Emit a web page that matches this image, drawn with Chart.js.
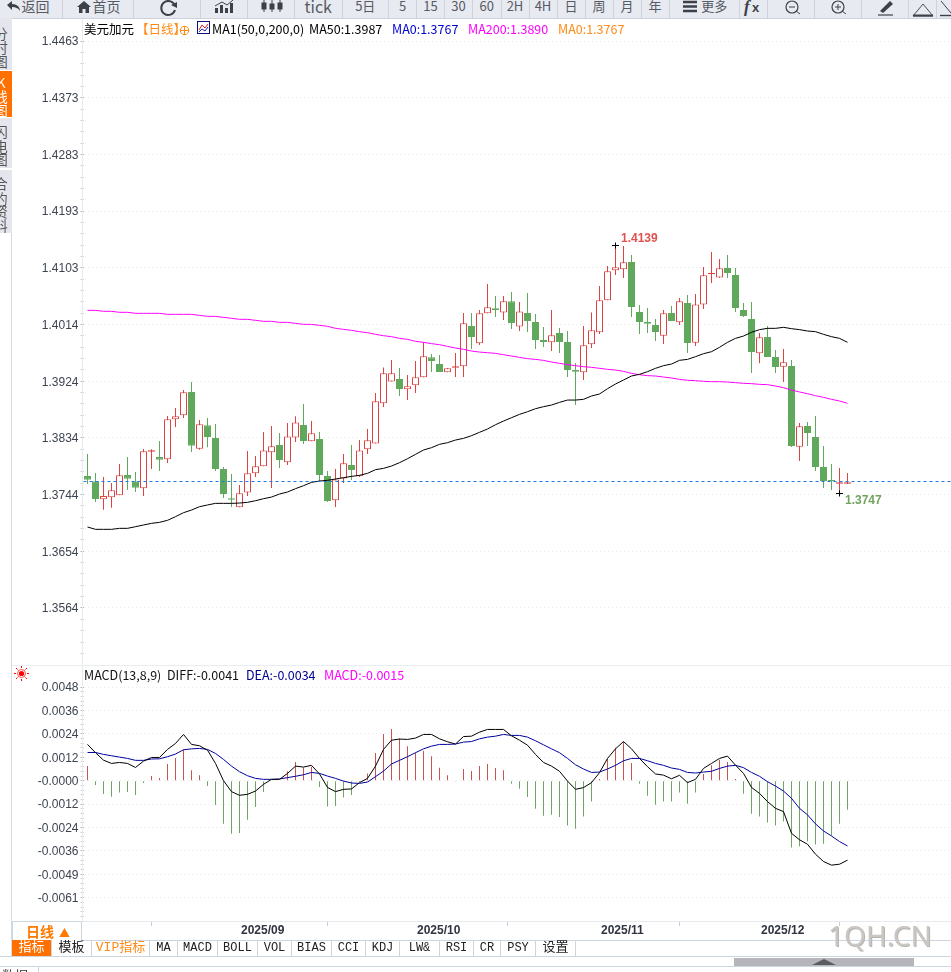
<!DOCTYPE html>
<html><head><meta charset="utf-8">
<style>
html,body{margin:0;padding:0;background:#fff;width:951px;height:972px;overflow:hidden;font-family:"Noto Sans CJK SC","Noto Sans",sans-serif}
.abs{position:absolute;white-space:nowrap}
#stage{position:absolute;left:0;top:0;width:951px;height:972px;overflow:hidden}
canvas{position:absolute;left:0}
#bar{position:absolute;left:0;top:0;width:951px;height:18px;background:#e8eaf1;border-bottom:1px solid #cfd2da;overflow:hidden}
.cell{position:absolute;top:0;height:18px;border-right:1px solid #cfd2da;text-align:center;color:#565a63;font-size:13px;line-height:12px;box-sizing:border-box;overflow:hidden}
.head{position:absolute;font-size:12.5px;line-height:16px;white-space:nowrap}
.tab{position:absolute;left:0;width:11.5px;background:#e4e5ed;overflow:hidden}
.tab span{position:absolute;left:-6px;width:14px;text-align:center;font-size:13.5px;line-height:14px;color:#555}
.tb{position:absolute;top:940px;height:17px;border-right:1px solid #cdd5de;border-bottom:1px solid #cdd5de;box-sizing:border-box;text-align:center;font:12px/16px "Liberation Mono",monospace;color:#222}
.tb.cjk{font:13px/16px "Liberation Mono","Noto Sans CJK SC";}
</style>
<script src="https://cdn.jsdelivr.net/npm/chart.js@4/dist/chart.umd.min.js"></script>
</head><body>
<div id="stage">
<canvas id="main" style="top:20px"></canvas>
<canvas id="macd" style="top:665px"></canvas>

<div id="bar"></div>
<div id="strip"></div>

<div class="abs" style="left:11px;top:233px;width:1px;height:724px;background:#d3dce3"></div>
<div class="abs" style="left:82px;top:19px;width:1px;height:902px;background:#e4eded"></div>
<div class="abs" style="left:12px;top:665px;width:939px;height:1px;background:#e8edf2"></div>

<span class="head" style="left:84px;top:21px;color:#000">美元加元</span>
<span class="head" style="left:136px;top:21px;color:#ff8a14">【日线】</span>
<svg class="abs" style="left:179px;top:25px" width="11" height="11"><circle cx="5.5" cy="5.5" r="4.2" fill="none" stroke="#ff8a14"/><path d="M1 5.5H10M5.5 1V10" stroke="#ff8a14"/></svg>
<svg class="abs" style="left:197px;top:21px" width="13" height="13"><rect x=".5" y=".5" width="12" height="12" fill="#fff" stroke="#10107a"/><path d="M2 9L5 4L8 7L11 3" fill="none" stroke="#d22"/><path d="M2 11L5 8L8 10L11 6" fill="none" stroke="#22a"/></svg>
<span class="head" style="left:212px;top:21px;color:#000">MA1(50,0,200,0)</span>
<span class="head" style="left:309px;top:21px;color:#000">MA50:1.3987</span>
<span class="head" style="left:392px;top:21px;color:#0000d0">MA0:1.3767</span>
<span class="head" style="left:468px;top:21px;color:#ff00ff">MA200:1.3890</span>
<span class="head" style="left:558px;top:21px;color:#ff8a14">MA0:1.3767</span>

<svg class="abs" style="left:14px;top:666px" width="15" height="15"><circle cx="7.5" cy="7.5" r="2.6" fill="#f00"/><circle cx="7.5" cy="7.5" r="4" fill="none" stroke="#f00" stroke-width=".7"/><path d="M7.5 0V2M7.5 13V15M0 7.5H2M13 7.5H15M2 2L3.5 3.5M11.5 11.5L13 13M13 2L11.5 3.5M3.5 11.5L2 13" stroke="#f00"/></svg>
<span class="head" style="left:84px;top:667px;color:#111">MACD(13,8,9)</span>
<span class="head" style="left:167px;top:667px;color:#111">DIFF:-0.0041</span>
<span class="head" style="left:246px;top:667px;color:#000090">DEA:-0.0034</span>
<span class="head" style="left:324px;top:667px;color:#ff00ff">MACD:-0.0015</span>

<div class="abs" style="left:82px;top:921px;width:869px;height:1px;background:#e6e9ed"></div>
<div class="abs" style="left:82px;top:940px;width:869px;height:1px;background:#cdd5de"></div>
<div class="abs" style="left:12px;top:921px;width:70px;height:19px;border:1px solid #cdd5de;border-bottom:none;box-sizing:border-box;color:#ff7a00;font:bold 14px/18px 'Noto Sans CJK SC';padding-left:13px;background:#fff">日线<span style="font-size:11px;margin-left:5px">▲</span></div>
<div id="tabs"></div>

<div class="abs" style="left:0;top:956px;width:951px;height:1px;background:#cdd5de"></div>
<div class="abs" style="left:0;top:966px;width:951px;height:1px;background:#cdd5de"></div>
<div class="abs" style="left:734px;top:958px;width:180px;height:8px;background:#b5b5bb"></div>
<div class="abs" style="left:812px;top:959px;width:0;height:0;border-left:12px solid transparent;border-right:12px solid transparent;border-bottom:6px solid #5c5c60"></div>
<div class="abs" style="left:38px;top:966px;width:1px;height:6px;background:#cdd5de"></div>
<span class="abs" style="left:2px;top:967px;font-size:13px;line-height:16px;color:#333">数据</span>

<span class="abs" style="left:828px;top:915px;font:28px/40px 'Noto Sans','Open Sans',sans-serif;color:#c9c6c3;text-shadow:1px 1px 0 #b8b4b0">1QH.CN</span>
</div>

<script>
const categories=["2025/08/05","2025/08/06","2025/08/07","2025/08/08","2025/08/11","2025/08/12","2025/08/13","2025/08/14","2025/08/15","2025/08/18","2025/08/19","2025/08/20","2025/08/21","2025/08/22","2025/08/25","2025/08/26","2025/08/27","2025/08/28","2025/08/29",
"2025/09/01","2025/09/02","2025/09/03","2025/09/04","2025/09/05","2025/09/08","2025/09/09","2025/09/10","2025/09/11","2025/09/12","2025/09/15","2025/09/16","2025/09/17","2025/09/18","2025/09/19","2025/09/22","2025/09/23","2025/09/24","2025/09/25","2025/09/26","2025/09/29","2025/09/30",
"2025/10/01","2025/10/02","2025/10/03","2025/10/06","2025/10/07","2025/10/08","2025/10/09","2025/10/10","2025/10/13","2025/10/14","2025/10/15","2025/10/16","2025/10/17","2025/10/20","2025/10/21","2025/10/22","2025/10/23","2025/10/24","2025/10/27","2025/10/28","2025/10/29","2025/10/30","2025/10/31",
"2025/11/03","2025/11/04","2025/11/05","2025/11/06","2025/11/07","2025/11/10","2025/11/11","2025/11/12","2025/11/13","2025/11/14","2025/11/17","2025/11/18","2025/11/19","2025/11/20","2025/11/21","2025/11/24","2025/11/25","2025/11/26","2025/11/27","2025/11/28",
"2025/12/01","2025/12/02","2025/12/03","2025/12/04","2025/12/05","2025/12/08","2025/12/09","2025/12/10","2025/12/11","2025/12/12","2025/12/15","2025/12/16"];
const monthStarts=["2025/09/01","2025/10/01","2025/11/03","2025/12/01"];
const blankSlots=["","","","","","","","","","","","",""];

const opens=[1.37732,1.37648,1.37363,1.37394,1.37426,1.37748,1.37648,1.37537,1.38119,1.38034,1.37997,1.38631,1.38695,1.39065,1.38166,1.38536,1.38335,1.37844,1.37368,1.37236,1.37473,1.37775,1.37886,1.38108,1.38224,1.37949,1.38345,1.38541,1.38282,1.38319,1.37732,1.37347,1.37695,1.37907,1.37727,1.38156,1.38250,1.38885,1.39233,1.39270,1.39107,1.39170,1.39297,1.39614,1.39508,1.39376,1.39450,1.39471,1.40111,1.39836,1.40312,1.40391,1.40327,1.40502,1.40105,1.40317,1.40174,1.39889,1.39852,1.40000,1.39857,1.39413,1.39376,1.39820,1.40011,1.40518,1.40994,1.41009,1.41126,1.40333,1.40174,1.40127,1.39958,1.40317,1.40169,1.40476,1.39847,1.40454,1.40930,1.40882,1.41030,1.40920,1.40365,1.40222,1.39678,1.39937,1.39619,1.39466,1.39477,1.38198,1.38525,1.38351,1.37875,1.37653,1.37611,1.37611];
const highs=[1.38081,1.37780,1.37717,1.37621,1.37923,1.38034,1.37796,1.38161,1.38156,1.38288,1.38684,1.38811,1.39096,1.39223,1.38621,1.38652,1.38557,1.37875,1.37764,1.37590,1.38129,1.38050,1.38430,1.38525,1.38414,1.38573,1.38679,1.38874,1.38604,1.38430,1.37812,1.37844,1.38081,1.38224,1.38303,1.38478,1.39048,1.39455,1.39572,1.39445,1.39334,1.39556,1.39852,1.39667,1.39651,1.39445,1.39683,1.40317,1.40317,1.40364,1.40777,1.40586,1.40586,1.40650,1.40491,1.40634,1.40301,1.40095,1.40364,1.40079,1.40031,1.39524,1.40111,1.40327,1.40745,1.41062,1.41390,1.41379,1.41237,1.40444,1.40396,1.40222,1.40365,1.40428,1.40555,1.40602,1.40618,1.41046,1.41284,1.41173,1.41237,1.41030,1.40476,1.40491,1.40000,1.40111,1.39730,1.39746,1.39572,1.38573,1.38589,1.38684,1.38208,1.37923,1.37860,1.37780];
const lows=[1.37605,1.37320,1.37199,1.37230,1.37426,1.37511,1.37479,1.37415,1.37844,1.37812,1.37939,1.38510,1.38652,1.38113,1.38150,1.38187,1.37812,1.37384,1.37241,1.37236,1.37415,1.37717,1.37886,1.37542,1.37859,1.37907,1.38271,1.38240,1.38282,1.37653,1.37320,1.37241,1.37621,1.37669,1.37717,1.38081,1.38250,1.38826,1.39233,1.39001,1.38937,1.39048,1.39297,1.39381,1.39381,1.39376,1.39302,1.39302,1.39746,1.39809,1.40312,1.40253,1.40206,1.40063,1.40031,1.40015,1.39746,1.39778,1.39714,1.39683,1.39302,1.38858,1.39254,1.39762,1.39984,1.40518,1.40920,1.40872,1.40254,1.39984,1.40000,1.39873,1.39826,1.40190,1.40127,1.39683,1.39794,1.40381,1.40793,1.40872,1.40872,1.40333,1.40254,1.39366,1.39519,1.39619,1.39366,1.39223,1.38193,1.37971,1.38208,1.37812,1.37542,1.37511,1.37470,1.37606];
const closes=[1.37674,1.37368,1.37415,1.37505,1.37743,1.37690,1.37548,1.38124,1.38124,1.37992,1.38631,1.38679,1.39059,1.38214,1.38552,1.38351,1.37844,1.37447,1.37357,1.37458,1.37775,1.37886,1.38139,1.38203,1.37986,1.38361,1.38583,1.38288,1.38409,1.37748,1.37336,1.37679,1.37933,1.37827,1.38139,1.38298,1.38916,1.39360,1.39360,1.39112,1.39154,1.39297,1.39630,1.39556,1.39381,1.39440,1.39455,1.40153,1.39936,1.40312,1.40407,1.40364,1.40502,1.40158,1.40343,1.40190,1.39889,1.39857,1.39963,1.39857,1.39413,1.39387,1.39804,1.40042,1.40518,1.40978,1.41041,1.41120,1.40412,1.40174,1.40148,1.40016,1.40312,1.40190,1.40502,1.39841,1.40454,1.40914,1.40946,1.41025,1.40951,1.40396,1.40270,1.39699,1.39931,1.39619,1.39461,1.39535,1.38208,1.38520,1.38414,1.37875,1.37653,1.37648,1.37627,1.37632];

const ma50=[1.36924,1.36887,1.36887,1.36887,1.36903,1.36903,1.36929,1.36956,1.36982,1.36998,1.37030,1.37088,1.37151,1.37193,1.37246,1.37273,1.37299,1.37299,1.37299,1.37304,1.37315,1.37341,1.37373,1.37399,1.37447,1.37479,1.37532,1.37579,1.37632,1.37653,1.37664,1.37685,1.37706,1.37727,1.37743,1.37775,1.37833,1.37854,1.37891,1.37944,1.38007,1.38076,1.38145,1.38182,1.38235,1.38261,1.38303,1.38330,1.38372,1.38425,1.38478,1.38546,1.38604,1.38657,1.38710,1.38752,1.38800,1.38832,1.38858,1.38900,1.38937,1.38937,1.38948,1.39001,1.39033,1.39117,1.39191,1.39255,1.39318,1.39345,1.39387,1.39440,1.39482,1.39508,1.39567,1.39582,1.39625,1.39672,1.39704,1.39773,1.39852,1.39915,1.39952,1.40011,1.40053,1.40074,1.40074,1.40090,1.40069,1.40053,1.40032,1.40021,1.39979,1.39942,1.39915,1.39852];
const ma200=[1.40359,1.40359,1.40344,1.40344,1.40328,1.40328,1.40312,1.40312,1.40312,1.40312,1.40296,1.40296,1.40296,1.40296,1.40280,1.40264,1.40264,1.40248,1.40233,1.40217,1.40217,1.40201,1.40185,1.40185,1.40169,1.40169,1.40153,1.40137,1.40137,1.40122,1.40106,1.40074,1.40058,1.40042,1.40021,1.40005,1.39979,1.39957,1.39942,1.39915,1.39899,1.39868,1.39852,1.39831,1.39815,1.39788,1.39762,1.39741,1.39714,1.39698,1.39688,1.39677,1.39656,1.39635,1.39614,1.39593,1.39582,1.39566,1.39540,1.39519,1.39498,1.39482,1.39466,1.39456,1.39440,1.39424,1.39413,1.39392,1.39360,1.39339,1.39324,1.39318,1.39302,1.39287,1.39265,1.39250,1.39244,1.39234,1.39228,1.39228,1.39223,1.39213,1.39202,1.39197,1.39186,1.39181,1.39160,1.39133,1.39096,1.39065,1.39038,1.39006,1.38980,1.38948,1.38922,1.38885];

const diff=[.00189,.00146,.00107,.00090,.00095,.00090,.00069,.00102,.00121,.00121,.00163,.00194,.00241,.00189,.00182,.00159,.00090,0,-.00057,-.00076,-.00071,-.00054,-.00019,.00007,.00007,.00038,.00076,.00071,.00080,.00035,-.00035,-.00057,-.00045,-.00043,-.00010,.00012,.00076,.00163,.00211,.00217,.00215,.00222,.00241,.00241,.00218,.00203,.00191,.00230,.00232,.00253,.00267,.00267,.00267,.00234,.00211,.00185,.00137,.00095,.00076,.00049,-.00002,-.00045,-.00036,-.00010,.00042,.00116,.00166,.00204,.00166,.00116,.00073,.00035,.00029,.00010,.00028,-.00010,.00007,.00064,.00090,.00116,.00128,.00081,.00038,-.00035,-.00066,-.00109,-.00144,-.00161,-.00274,-.00308,-.00331,-.00383,-.00421,-.00440,-.00435,-.00414];
const dea=[.00147,.00147,.00137,.00130,.00123,.00116,.00106,.00106,.00113,.00114,.00125,.00139,.00161,.00166,.00168,.00163,.00142,.00111,.00076,.00047,.00026,.00012,.00007,.00007,.00009,.00016,.00023,.00031,.00043,.00038,.00024,.00012,-.00002,-.00012,-.00014,-.00007,.00021,.00050,.00087,.00106,.00125,.00146,.00166,.00180,.00189,.00189,.00191,.00201,.00204,.00218,.00227,.00232,.00241,.00236,.00236,.00227,.00208,.00187,.00166,.00146,.00116,.00083,.00061,.00043,.00045,.00061,.00080,.00104,.00116,.00116,.00104,.00090,.00080,.00066,.00059,.00043,.00040,.00045,.00049,.00064,.00076,.00080,.00068,.00043,.00023,-.00005,-.00028,-.00054,-.00092,-.00144,-.00178,-.00225,-.00262,-.00288,-.00317,-.00340];
const macdBars=[.00076,-.00023,-.00069,-.00083,-.00062,-.00059,-.00075,-.00012,.00024,.00014,.00087,.00118,.00163,.00055,.00029,-.00028,-.00127,-.00224,-.00276,-.00272,-.00204,-.00137,-.00059,-.00003,.00002,.00049,.00097,.00069,.00073,-.00033,-.00135,-.00132,-.00088,-.00075,-.00007,.00038,.00144,.00243,.00269,.00220,.00180,.00146,.00156,.00128,.00068,.00029,-.00002,.00061,.00050,.00076,.00087,.00066,.00055,-.00016,-.00042,-.00085,-.00146,-.00182,-.00177,-.00189,-.00234,-.00250,-.00187,-.00109,.00009,.00114,.00172,.00203,.00092,-.00016,-.00078,-.00125,-.00109,-.00109,-.00062,-.00120,-.00062,.00035,.00081,.00109,.00097,.00009,-.00068,-.00172,-.00187,-.00218,-.00234,-.00213,-.00348,-.00343,-.00317,-.00333,-.00328,-.00286,-.00224,-.00151];

const priceTicks=[1.4463,1.4373,1.4283,1.4193,1.4103,1.4014,1.3924,1.3834,1.3744,1.3654,1.3564];
const priceTickValues=[1.4463,1.43731,1.42832,1.41933,1.41034,1.40135,1.39236,1.38337,1.37438,1.36539,1.3564];
const macdTickLabels=["0.0048","0.0036","0.0024","0.0012","-0.0000","-0.0012","-0.0024","-0.0036","-0.0049","-0.0061"];
const macdTickValues=[.004875,.003656,.002438,.001219,0,-.001219,-.002438,-.003656,-.004875,-.006094];
const lastPrice=1.37648, highIndex=66, lowIndex=94;

const UP='#dc4444', DOWN='#60a85c', MUP='#c7544e', MDOWN='#6ea764';
const slotLabels=categories.concat(blankSlots);
const PLOT_LEFT=83.5, minorPerMajor=5;

function withMinor(values){
  const out=[];
  const step=Math.abs(values[1]-values[0])/minorPerMajor;
  values.forEach((v,i)=>{
    out.push({value:v,major:true});
    for(let k=1;k<minorPerMajor;k++) out.push({value:v-k*step,major:false});
  });
  return out;
}
function yScale(min,max,values,labels){
  return {
    min,max,position:'left',
    afterFit(s){s.width=PLOT_LEFT;s.paddingTop=0;s.paddingBottom=0},
    afterBuildTicks(s){s.ticks=withMinor(values)},
    border:{display:false,dash:[1,3]},
    grid:{
      color:c=>c.tick&&c.tick.major?'#e8eaec':'rgba(0,0,0,0)',
      tickColor:c=>c.tick&&c.tick.major?'#b9bec4':'#d0d4d8',
      tickLength:3,tickBorderDash:[]
    },
    ticks:{
      autoSkip:false,padding:2,labelOffset:1,color:'#3d4450',
      font:{family:'"Liberation Sans"',size:12},
      callback(v){const i=values.indexOf(v);return i>=0?labels[i]:''}
    }
  };
}

const markers={
  id:'markers',
  afterDatasetsDraw(ch){
    const x=ch.scales.x,y=ch.scales.y,g=ch.ctx,a=ch.chartArea;
    const yl=y.getPixelForValue(lastPrice);
    g.save();
    g.strokeStyle='#1f7ae0';g.lineWidth=1;g.setLineDash([3,3]);
    g.beginPath();g.moveTo(a.left,Math.round(yl)+.5);g.lineTo(a.right,Math.round(yl)+.5);g.stroke();
    g.setLineDash([]);
    const mark=(i,v,txt,col,dy)=>{
      const px=x.getPixelForValue(i),py=Math.round(y.getPixelForValue(v))+.5;
      g.strokeStyle='#000';
      g.beginPath();g.moveTo(px-3.5,py);g.lineTo(px+3.5,py);g.moveTo(px,py-3);g.lineTo(px,py+3);g.stroke();
      g.fillStyle=col;g.font='bold 12px "Liberation Sans"';g.textBaseline='middle';g.textAlign='left';
      g.fillText(txt,px+5.5,py+dy);
    };
    mark(highIndex,highs[highIndex],highs[highIndex].toFixed(4),'#e0504f',-7);
    mark(lowIndex,lows[lowIndex],lows[lowIndex].toFixed(4),'#6fa35e',7.5);
    g.restore();
  }
};

const isUp=i=>closes[i]>=opens[i];
function sized(id,h){const c=document.getElementById(id);c.width=956;c.height=h;c.style.width='956px';c.style.height=h+'px';return c}

new Chart(sized('main',645),{
  type:'bar',
  data:{labels:slotLabels,datasets:[
    {type:'line',label:'MA50',data:ma50,borderColor:'#000',borderWidth:1,pointRadius:0,tension:0,order:1},
    {type:'line',label:'MA200',data:ma200,borderColor:'#ff00ff',borderWidth:1,pointRadius:0,tension:0,order:1},
    {label:'body',data:opens.map((o,i)=>[o,closes[i]]),grouped:false,barThickness:7,minBarLength:1.4,borderSkipped:false,borderWidth:1,inflateAmount:0,
      backgroundColor:opens.map((o,i)=>isUp(i)?'#fff':DOWN),borderColor:opens.map((o,i)=>isUp(i)?UP:DOWN),order:2},
    {label:'wick',data:lows.map((l,i)=>[l,highs[i]]),grouped:false,barThickness:1,borderWidth:0,inflateAmount:0,
      backgroundColor:lows.map((l,i)=>isUp(i)?UP:DOWN),order:3}
  ]},
  options:{
    responsive:false,animation:false,devicePixelRatio:1,events:[],
    layout:{padding:{right:.5,left:0,top:0,bottom:0}},
    plugins:{legend:{display:false},tooltip:{enabled:false}},
    scales:{
      x:{display:false,offset:true,grid:{display:false}},
      y:yScale(1.34736,1.44963,priceTickValues,priceTicks.map(t=>t.toFixed(4)))
    }
  },
  plugins:[markers]
});

new Chart(sized('macd',276),{
  type:'bar',
  data:{labels:slotLabels,datasets:[
    {type:'line',label:'DIFF',data:diff,borderColor:'#000',borderWidth:1,pointRadius:0,tension:0,order:1},
    {type:'line',label:'DEA',data:dea,borderColor:'#0000a0',borderWidth:1,pointRadius:0,tension:0,order:1},
    {label:'MACD',data:macdBars,barThickness:1,grouped:false,borderWidth:0,inflateAmount:0,
      backgroundColor:macdBars.map(v=>v>=0?MUP:MDOWN),order:2}
  ]},
  options:{
    responsive:false,animation:false,devicePixelRatio:1,events:[],
    layout:{padding:{right:.5,left:0,top:0,bottom:0}},
    plugins:{legend:{display:false},tooltip:{enabled:false}},
    scales:{
      x:{
        offset:true,
        afterFit(s){s.height=20},
        afterBuildTicks(s){s.ticks=s.ticks.filter(t=>monthStarts.includes(slotLabels[t.value]))},
        border:{display:false},
        grid:{drawOnChartArea:false,tickLength:5,tickColor:'#c9ced3'},
        ticks:{autoSkip:false,maxRotation:0,align:'start',padding:-3,labelOffset:1.5,color:'#2e3440',
          font:{family:'"Liberation Sans"',size:12,weight:'bold'},
          callback(v){return slotLabels[v].slice(0,7)}}
      },
      y:yScale(-.00731,.006028,macdTickValues,macdTickLabels)
    }
  }
});

/* toolbar and tabs: plain interface chrome */
const bar=document.getElementById('bar');
const cells=[[0,63,'返回',14,9],[63,134,'首页',14,17],[134,201,''],[201,248,''],[248,295,''],[295,342.5,'tick',16],[342.5,389,'5日'],[389,417,'5'],[417,445,'15'],[445,473,'30'],[473,501.5,'60'],[501.5,529.5,'2H'],[529.5,557.5,'4H'],[557.5,585.5,'日'],[585.5,613.5,'周'],[613.5,641.5,'月'],[641.5,669.5,'年'],[669.5,740,'更多',13,20],[740,768,''],[768,815,''],[815,862,''],[862,909,''],[909,937,''],[937,960,'']];
cells.forEach(c=>{
  const d=document.createElement('div');d.className='cell';
  d.style.left=c[0]+'px';d.style.width=(c[1]-c[0])+'px';
  d.textContent=c[2];
  if(c[3])d.style.fontSize=c[3]+'px';
  if(c[4])d.style.paddingLeft=c[4]+'px';
  bar.appendChild(d);
});
bar.insertAdjacentHTML('beforeend',`
<svg class="abs" style="left:0;top:0" width="951" height="18" fill="none" stroke="#3c4048">
<path d="M7 5L12 1V4C17 4 20 7 20 11C18 8 16 7 12 7V10Z" fill="#3c4048" stroke="none"/>
<path d="M77 7L84 1L91 7H89V13H85.5V9H82.5V13H79V7Z" fill="#3c4048" stroke="none"/>
<path d="M175 6A7 7 0 1 0 175 10" stroke-width="2"/><path d="M171 5L177 2V8Z" fill="#3c4048" stroke="none"/>
<path d="M215 13V8H218V13ZM220 13V5H223V13ZM225 13V8H228V13ZM230 13V3H233V13Z" fill="#3c4048" stroke="none"/><path d="M215 6L222 2L227 5L233 0"/>
<path d="M264 0V12M272 0V12M280 0V12" /><rect x="262" y="3" width="4" height="6" fill="#3c4048"/><rect x="270" y="4" width="4" height="5" fill="#3c4048"/><rect x="278" y="3" width="4" height="6" fill="#3c4048"/>
<path d="M683 2H697M683 6.5H697M683 11H697" stroke-width="2.4"/>
<circle cx="792" cy="7" r="6" stroke-width="1.2"/><path d="M789 7H795M796 11L800 14"/>
<circle cx="838" cy="7" r="6" stroke-width="1.2"/><path d="M835 7H841M838 4V10M842 11L846 14"/>
<path d="M880 11L890 1L893 4L883 13Z" fill="#3c4048" stroke="none"/><path d="M878 15H893" stroke-width="1.2"/>
<path d="M913 16L923 4L933 16Z" stroke="#4a4e56"/><path d="M913 15.5H933" stroke-width="2"/>
<path d="M941 1L951 13" /><path d="M940 15.5H951" stroke-width="1.4"/>
</svg>
<span class="abs" style="left:744px;top:-3px;font:italic bold 17px/20px 'Liberation Serif';color:#3c4048">f</span>
<span class="abs" style="left:752px;top:-1px;font:bold 13px/18px 'Liberation Sans';color:#3c4048">x</span>`);

const strip=document.getElementById('strip');
[[18,70,'#e4e5ed','#555',[['分',33],['时',47],['图',61]]],
 [71,117,'#ff7000','#fff',[['K',82],['线',96],['图',110]]],
 [118,168,'#e4e5ed','#555',[['闪',131],['电',146],['图',159]]],
 [170,233,'#e4e5ed','#555',[['合',183],['约',198],['资',211],['料',225]]]
].forEach(t=>{
  const d=document.createElement('div');d.className='tab';
  d.style.top=t[0]+'px';d.style.height=(t[1]-t[0])+'px';d.style.background=t[2];
  t[4].forEach(ch=>{
    const s=document.createElement('span');s.textContent=ch[0];s.style.top=(ch[1]-t[0]-7)+'px';s.style.color=t[3];d.appendChild(s);
  });
  strip.appendChild(d);
});

const tabs=document.getElementById('tabs');
[[12,52,'指标',1,'#fff','#ff7000'],[52,92,'模板',1],[92,150,'VIP指标',1,'#ff8a14'],[150,178,'MA'],[178,218,'MACD'],[218,258,'BOLL'],[258,292,'VOL'],[292,332,'BIAS'],[332,366,'CCI'],[366,400,'KDJ'],[400,440,'LW&'],[440,474,'RSI'],[474,501,'CR'],[501,536,'PSY'],[536,576,'设置',1]].forEach(t=>{
  const d=document.createElement('div');d.className='tb'+(t[3]?' cjk':'');
  d.style.left=t[0]+'px';d.style.width=(t[1]-t[0])+'px';d.textContent=t[2];
  if(t[4])d.style.color=t[4];
  if(t[5])d.style.background=t[5];
  tabs.appendChild(d);
});
</script>
</body></html>
